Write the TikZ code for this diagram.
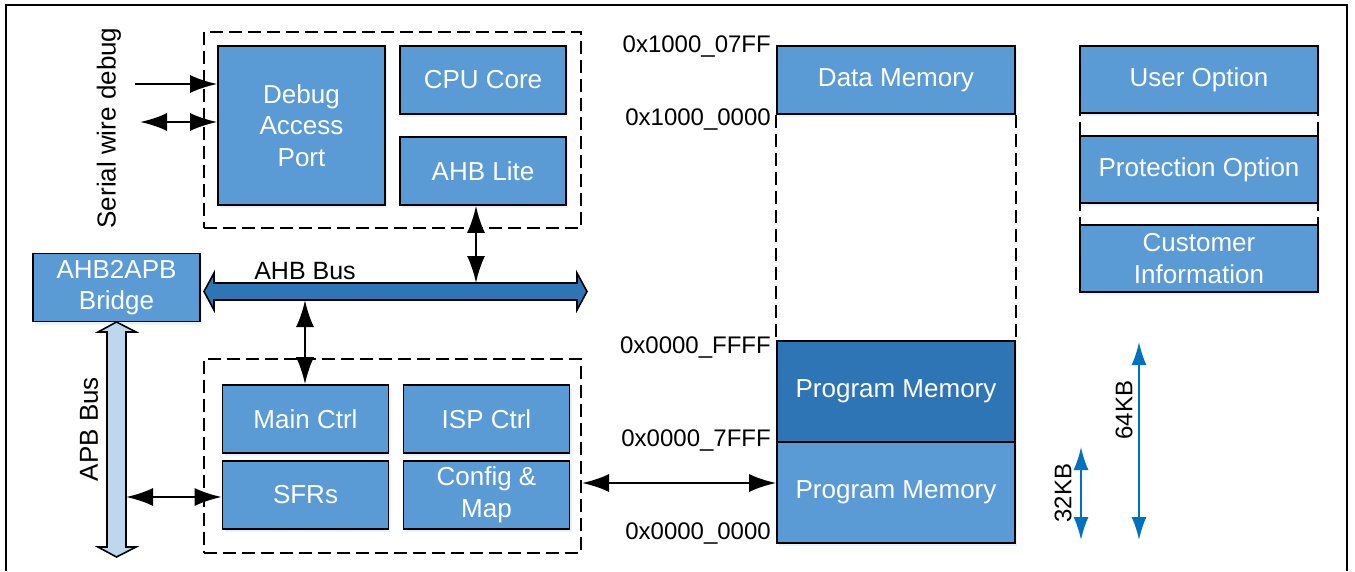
\documentclass[tikz,border=0pt]{standalone}
\usepackage{fontspec}
\setmainfont{Liberation Sans}
\usetikzlibrary{arrows.meta,positioning,shadows}

\definecolor{boxblue}{HTML}{5B9BD5}
\definecolor{busblue}{HTML}{2E75B6}
\definecolor{apbblue}{HTML}{BDD7EE}
\definecolor{sizeblue}{HTML}{0070C0}

\tikzset{
  blk/.style = {draw, line width=1.6pt, fill=boxblue, text=white, inner sep=0pt,
                align=center, font=\fontsize{26}{31.5}\selectfont,
                drop shadow={shadow xshift=2pt, shadow yshift=-3pt, opacity=.12, fill=boxblue}},
  grp/.style = {draw, dashed, dash pattern=on 13pt off 6pt, line width=1.5pt, inner sep=0pt},
  addr/.style = {anchor=east, inner sep=0pt, font=\fontsize{24}{28}\selectfont},
  dbl/.style = {{Latex[length=27pt,width=18pt]}-{Latex[length=27pt,width=18pt]}, line width=2.5pt},
  sgl/.style = {-{Latex[length=27pt,width=18pt]}, line width=2.5pt},
  size/.style = {{Latex[length=23pt,width=15pt]}-{Latex[length=23pt,width=15pt]}, line width=2pt, draw=sizeblue, color=sizeblue}
}

\begin{document}
\begin{tikzpicture}[x=1pt, y=-1pt]
\useasboundingbox (0,0) rectangle (1355,571);

% frame
\draw[line width=2pt] (6,571) -- (6,5) -- (1347,5) -- (1347,571);

% core group
\node[grp, minimum width=377pt, minimum height=196pt] (topgrp) at (392.5,130) {};
\node[blk, minimum width=167pt, minimum height=159pt] (dap) at (301.5,125.5) {Debug\\Access\\Port};
\node[blk, minimum width=166pt, minimum height=68pt] (cpu) at (483,80) {CPU Core};
\node[blk, minimum width=166pt, minimum height=68pt] (ahbl) at (483,171) {AHB Lite};

\node[rotate=90, font=\fontsize{26}{30}\selectfont] (swd) at (109,128) {Serial wire debug};
\coordinate (swdin) at (135,84);
\coordinate (swdio) at (140,122);
\draw[sgl] (swdin) -- (swdin -| dap.west);
\draw[dbl] (swdio) -- (swdio -| dap.west);

% AHB bus
\node[blk, minimum width=167pt, minimum height=68pt] (bridge) at (116.5,287.5) {AHB2APB\\Bridge};
\filldraw[fill=busblue, line width=1.6pt] (204,291.5) -- (214,273) -- (214,283) -- (577,283) -- (577,273)
  -- (587,291.5) -- (577,310) -- (577,300) -- (214,300) -- (214,310) -- cycle;
\coordinate (ahbup) at (476,283);
\coordinate (ahbdn) at (305,300);
\node[anchor=base, font=\fontsize{25}{30}\selectfont] (ahbtxt) at (305,279) {AHB Bus};

% APB bus
\filldraw[fill=apbblue, line width=1.6pt] (116.5,322) -- (136,332) -- (126,332) -- (126,547) -- (136,547)
  -- (116.5,557) -- (98,547) -- (107,547) -- (107,332) -- (98,332) -- cycle;
\coordinate (apbout) at (126,497);
\node[rotate=90, font=\fontsize{26}{30}\selectfont] (apbtxt) at (89,429) {APB Bus};

% peripheral group
\node[grp, minimum width=377pt, minimum height=194pt] (botgrp) at (392.5,456) {};
\node[blk, minimum width=166pt, minimum height=68pt] (mainc) at (305.5,419) {Main Ctrl};
\node[blk, minimum width=166pt, minimum height=68pt] (ispc) at (486.5,419) {ISP Ctrl};
\node[blk, minimum width=166pt, minimum height=68pt] (sfr) at (305.5,495) {SFRs};
\node[blk, minimum width=166pt, minimum height=68pt] (cfg) at (486.5,495) {Config \&\\Map};

\draw[dbl] ([xshift=-7pt]ahbl.south) -- (ahbup);
\draw[dbl] (ahbdn) -- (ahbdn |- mainc.north);
\draw[dbl] (apbout) -- (apbout -| sfr.west);

% memory map
\node[blk, minimum width=238pt, minimum height=68pt] (dmem) at (896,80) {Data Memory};
\node[blk, fill=busblue, minimum width=238pt, minimum height=101pt] (pmhi) at (896,391.5) {Program Memory};
\node[blk, minimum width=238pt, minimum height=101pt] (pmlo) at (896,492.5) {Program Memory};
\draw[grp] (dmem.south west) -- (pmhi.north west);
\draw[grp] (dmem.south east) -- (pmhi.north east);

\node[addr] (a1) at (771,47) {0x1000\_07FF};
\node[addr] (a2) at (771,120) {0x1000\_0000};
\node[addr] (a3) at (771,347) {0x0000\_FFFF};
\node[addr] (a4) at (771,440) {0x0000\_7FFF};
\node[addr] (a5) at (771,533) {0x0000\_0000};

\coordinate (cfgout) at (582,483);
\draw[dbl] (cfgout) -- (cfgout -| pmlo.west);

% option area
\draw[grp] (1080,46) -- (1080,292);
\draw[grp] (1318,46) -- (1318,292);
\node[blk, minimum width=238pt, minimum height=67pt] (usr) at (1199,79.5) {User Option};
\node[blk, minimum width=238pt, minimum height=67pt] (prot) at (1199,169.5) {Protection Option};
\node[blk, minimum width=238pt, minimum height=67pt] (cust) at (1199,258.5) {Customer\\Information};

% sizes
\coordinate (k32t) at (1081,447);
\coordinate (k32b) at (1081,540);
\coordinate (k64t) at (1139,342);
\coordinate (k64b) at (1139,540);
\draw[size] (k32t) -- (k32b);
\draw[size] (k64t) -- (k64b);
\node[rotate=90, font=\fontsize{24}{28}\selectfont] (k32) at (1063,493) {32KB};
\node[rotate=90, font=\fontsize{24}{28}\selectfont] (k64) at (1124,410) {64KB};
\end{tikzpicture}
\end{document}
